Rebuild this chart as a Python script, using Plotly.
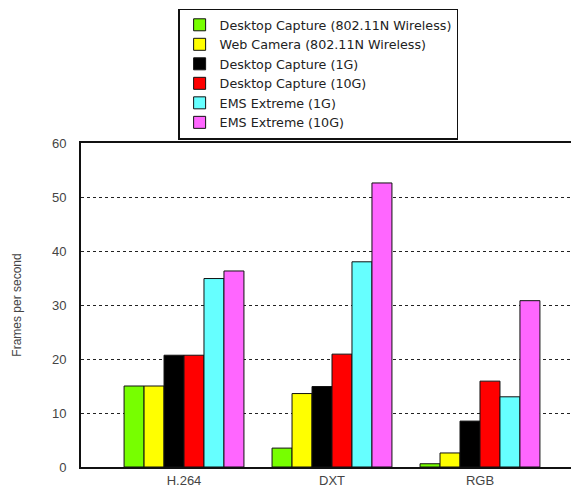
import plotly.graph_objects as go

categories = ["H.264", "DXT", "RGB"]
series_names = [
    "Desktop Capture (802.11N Wireless)",
    "Web Camera (802.11N Wireless)",
    "Desktop Capture (1G)",
    "Desktop Capture (10G)",
    "EMS Extreme (1G)",
    "EMS Extreme (10G)",
]
desktop_wireless = [15.0, 3.5, 0.6]
webcam_wireless = [15.0, 13.6, 2.6]
desktop_1g = [20.7, 14.9, 8.5]
desktop_10g = [20.7, 20.9, 15.9]
ems_1g = [34.9, 38.0, 13.0]
ems_10g = [36.3, 52.6, 30.8]
series_values = [desktop_wireless, webcam_wireless, desktop_1g, desktop_10g, ems_1g, ems_10g]
colors = ["#77ff00", "#ffff00", "#000000", "#ff0000", "#66ffff", "#ff66ff"]
y_ticks = [0, 10, 20, 30, 40, 50, 60]

fig = go.Figure()
for name, vals, col in zip(series_names, series_values, colors):
    fig.add_trace(go.Bar(
        x=list(range(len(categories))), y=vals, name=name,
        marker=dict(color=col, line=dict(color="#111111", width=1)),
    ))

# page body has an 8px default margin, so the figure is sized to fill the rest
fig.update_layout(
    width=571, height=481,
    margin=dict(l=73, r=0, t=135, b=22, autoexpand=False),
    barmode="group", bargap=0.19, bargroupgap=0,
    plot_bgcolor="white", paper_bgcolor="white",
    font=dict(family="Liberation Sans, Arial, sans-serif", size=13, color="#444444"),
    legend=dict(
        x=0.195, y=1.415, xanchor="left", yanchor="top",
        bordercolor="#111111", borderwidth=1.5, bgcolor="white",
        font=dict(family="DejaVu Sans", size=12.7, color="#222222"),
        tracegroupgap=0, itemwidth=30,
    ),
    showlegend=True,
)
fig.update_xaxes(
    range=[-0.696, 2.669], tickmode="array",
    tickvals=list(range(len(categories))), ticktext=categories,
    showline=True, linecolor="#111111", linewidth=2, mirror=True,
    showgrid=False, ticks="", zeroline=False,
    tickfont=dict(size=13, color="#444444"),
)
fig.update_yaxes(
    range=[0, 60], tickvals=y_ticks,
    showline=True, linecolor="#111111", linewidth=2, mirror=False,
    showgrid=True, gridcolor="#222222", griddash="dot", gridwidth=1,
    ticks="", ticklabelstandoff=10,
    zeroline=False,
    tickfont=dict(size=13, color="#444444"),
    title=dict(text="Frames per second", font=dict(size=12, color="#444444"), standoff=28),
)
fig.write_html("out.html")
